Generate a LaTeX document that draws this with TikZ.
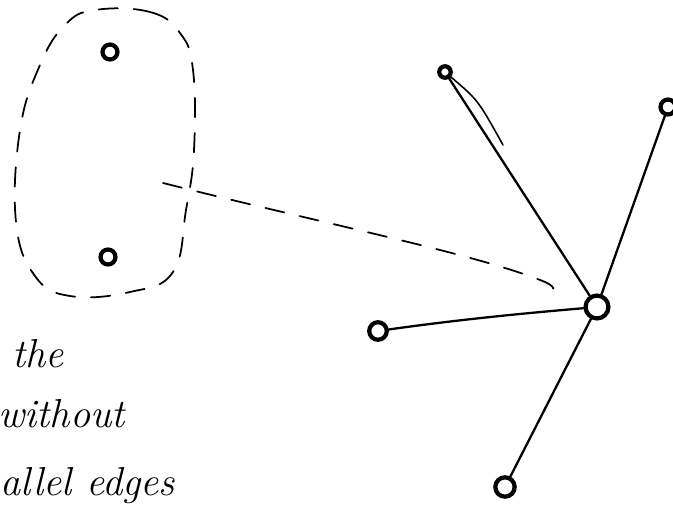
\documentclass[tikz,border=0pt]{standalone}
\usepackage{tikz}
\usetikzlibrary{positioning}

\tikzset{
  vtx/.style={circle, draw, line width=2.4pt, fill=white, inner sep=0pt, minimum size=#1},
  vtx/.default=8.5pt,
  pen/.style={line width=1.3pt, line cap=round},
  loosedash/.style={line width=1pt, line cap=round, dash pattern=on 11pt off 9pt},
  hand/.style={font=\fontsize{23}{27}\selectfont\itshape, anchor=base west, inner sep=0pt}
}

\begin{document}
\begin{tikzpicture}[x=0.02cm, y=-0.02cm]
        \useasboundingbox (0,0) rectangle (673,507);

        % Dashed region round the two left vertices
        \draw[loosedash] plot[smooth cycle, tension=0.7] coordinates {(95,10) (150,12) (180,33) (193,70) (194,150) (186,210) (173,272) (130,292) (70,296) (35,276) (16,222) (20,130) (40,65) (65,25)};

        % Vertices
        \node[vtx] (u) at (110,52) {};
        \node[vtx] (w) at (108,257) {};
        \node[vtx=6.5pt] (a) at (445,72) {};
        \node[vtx] (b) at (668,107) {};
        \node[vtx=13pt] (c) at (597,307) {};
        \node[vtx=10pt] (d) at (378,331) {};
        \node[vtx=11pt] (e) at (505,487) {};

        % Edges
        \draw[pen] (a) -- (c);
        \draw[pen, line width=0.9pt] (a) .. controls (478,100) .. (503,145);
        \draw[pen] (b) -- (c);
        \draw[pen] (d) .. controls (470,318) and (540,312) .. (c);
        \draw[pen] (c) -- (e);

        % Dashed contraction line
        \coordinate (dstart) at (163,183);
        \coordinate (dend) at (556,296);
        \draw[loosedash] (dstart) .. controls (330,225) and (480,255) .. (545,282) .. controls (553,286) .. (dend);

        % Text
        \node[hand] (t1) at (12,367) {the};
        \node[hand] (t2) at (-2,427) {without};
        \node[hand] (t3) at (0,495) {allel edges};
      \end{tikzpicture}
\end{document}
